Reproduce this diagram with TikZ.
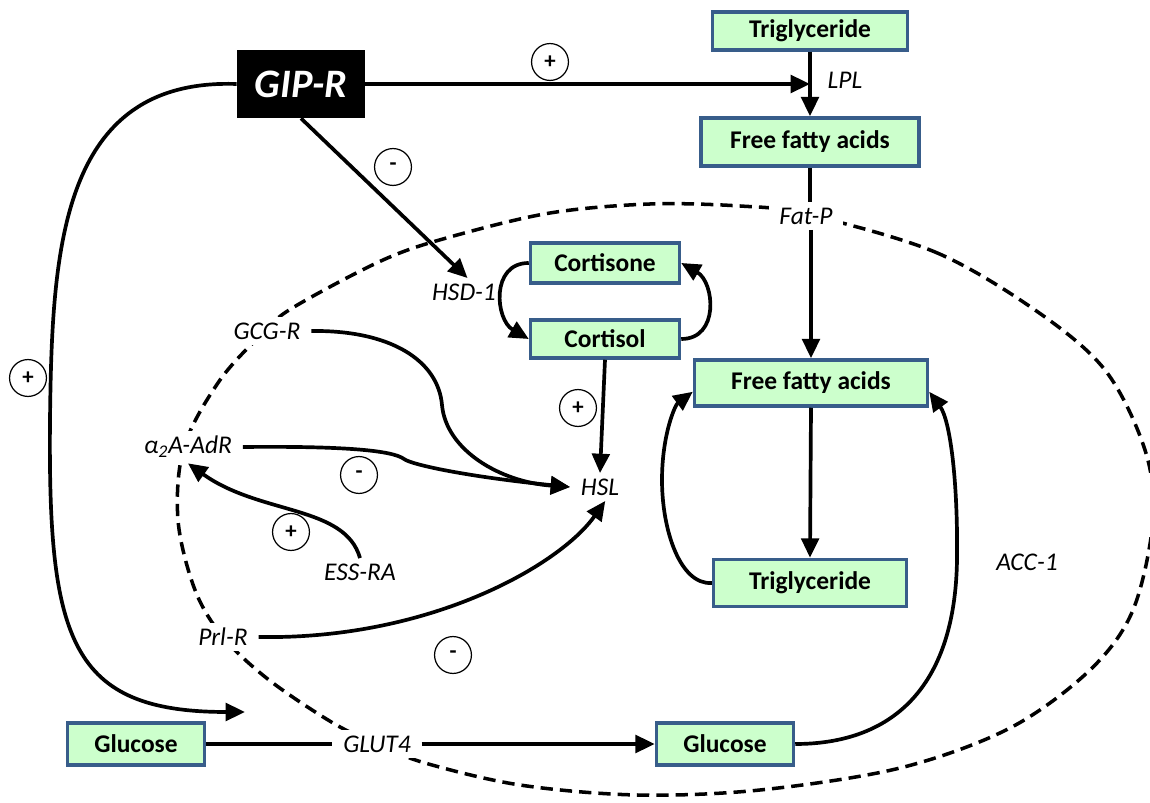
\documentclass[tikz,border=0pt]{standalone}
\usepackage{fontspec}
\setmainfont{Carlito}
\usetikzlibrary{arrows.meta,calc}
\definecolor{boxgreen}{RGB}{204,255,204}
\definecolor{boxblue}{RGB}{56,93,138}
\tikzset{
	box/.style={draw=boxblue, line width=2pt, fill=boxgreen, inner sep=0pt, font=\bfseries\fontsize{14.5}{17}\selectfont},
	lbl/.style={fill=white, inner xsep=6pt, inner ysep=3pt, font=\itshape\fontsize{14.5}{17}\selectfont},
	sign/.style={draw, circle, line width=0.7pt, minimum size=21pt, inner sep=0pt, font=\bfseries\fontsize{13}{15}\selectfont},
	conn/.style={line width=2.1pt},
	arr/.style={line width=2.1pt, -{Triangle[length=11pt,width=10pt]}},
	membrane/.style={line width=2pt, dash pattern=on 7pt off 4pt}
}

\begin{document}
\begin{tikzpicture}[x=0.02cm, y=0.02cm]
	\clip (0,0) rectangle (1150,-803);

	\draw [membrane] plot [smooth cycle, tension=0.55] coordinates {
		(806,-214) (935,-252) (1035,-310) (1105,-370) (1145,-450) (1153,-520)
		(1133,-610) (1090,-670) (1010,-728) (900,-768) (760,-790) (637,-795)
		(520,-785) (425,-763) (377,-744) (333,-723) (269,-680) (223,-637)
		(195,-590) (178,-520) (184,-447) (220,-380) (265,-331) (294,-307)
		(383,-260) (450,-237) (550,-213) (650,-204) (740,-206)};

	\node [fill=black, minimum width=2.56cm, minimum height=1.36cm, text=white, font=\bfseries\itshape\fontsize{23}{27}\selectfont] (gipr) at (301,-84) {GIP-R};
	\node [box, minimum width=3.9cm, minimum height=0.76cm] (tg1) at (810,-31) {Triglyceride};
	\node [box, minimum width=4.36cm, minimum height=0.96cm] (ffa1) at (810,-142) {Free fatty acids};
	\node [box, minimum width=2.98cm, minimum height=0.8cm] (cortisone) at (605,-263) {Cortisone};
	\node [box, minimum width=2.98cm, minimum height=0.76cm] (cortisol) at (605,-339) {Cortisol};
	\node [box, minimum width=4.66cm, minimum height=0.92cm] (ffa2) at (811,-383) {Free fatty acids};
	\node [box, minimum width=3.86cm, minimum height=0.94cm] (tg2) at (810,-583) {Triglyceride};
	\node [box, minimum width=2.74cm, minimum height=0.84cm] (glucosel) at (136,-744) {Glucose};
	\node [box, minimum width=2.74cm, minimum height=0.84cm] (glucoser) at (725,-744) {Glucose};

	\node [lbl] (lpl) at (845,-80) {LPL};
	\node [lbl] (fatp) at (806,-216) {Fat-P};
	\node [lbl] (hsd1) at (464,-292) {HSD-1};
	\node [lbl] (gcgr) at (267,-331) {GCG-R};
	\node [lbl] (a2a) at (188,-447) {α\textsubscript{2}A-AdR};
	\node [lbl] (hsl) at (600,-487) {HSL};
	\node [lbl] (essra) at (360,-572) {ESS-RA};
	\node [lbl] (prlr) at (223,-637) {Prl-R};
	\node [lbl] (acc1) at (1027,-562) {ACC-1};
	\node [lbl] (glut4) at (377,-744) {GLUT4};
	\coordinate (gipend) at (245,-712);

	\node [sign] (s1) at (550,-62) {+};
	\node [sign] (s2) at (393,-167) {-};
	\node [sign] (s3) at (28,-378) {+};
	\node [sign] (s4) at (578,-408) {+};
	\node [sign] (s5) at (359,-475) {-};
	\node [sign] (s6) at (291,-532) {+};
	\node [sign] (s7) at (453,-655) {-};

	\draw [arr] (gipr.east) -- (gipr.east -| tg1.south);
	\draw [arr] (tg1.south) -- (ffa1.north);
	\draw [conn] (ffa1.south) -- (ffa1.south |- fatp.north);
	\draw [arr] (ffa2.north |- fatp.south) -- (ffa2.north);
	\draw [arr] (ffa2.south) -- (tg2.north);
	\draw [arr] (gipr.south) -- ([xshift=2pt]hsd1.north);
	\draw [arr] (cortisone.west) to [out=180, in=150, looseness=1.3] (cortisol.west);
	\draw [arr] (cortisol.east) to [out=0, in=-30, looseness=1.3] (cortisone.east);
	\draw [arr] (cortisol.south) -- (hsl.north);
	\draw [arr] (gcgr.east) .. controls (390,-330) and (438,-360) .. (442,-405) .. controls (446,-450) and (500,-482) .. (hsl.west);
	\draw [arr] (a2a.east) .. controls (340,-446) and (392,-450) .. (404,-459) .. controls (412,-465) and (470,-477) .. (hsl.west);
	\draw [arr] (essra.north) .. controls (345,-505) and (260,-515) .. (a2a.south);
	\draw [arr] (prlr.east) .. controls (430,-640) and (560,-565) .. ([xshift=3pt]hsl.south);
	\draw [arr] (gipr.west) .. controls (60,-78) and (52,-250) .. (50,-420) .. controls (48,-640) and (70,-712) .. (gipend);
	\draw [conn] (glucosel.east) -- (glut4.west);
	\draw [arr] (glut4.east) -- (glucoser.west);
	\draw [arr] (glucoser.east) .. controls (890,-744) and (955,-690) .. (957,-560) .. controls (958,-480) and (950,-420) .. ([yshift=-5pt]ffa2.east);
	\draw [arr] (tg2.west) .. controls (680,-585) and (662,-530) .. (662,-480) .. controls (662,-435) and (675,-405) .. ([yshift=-5pt]ffa2.west);
\end{tikzpicture}
\end{document}
